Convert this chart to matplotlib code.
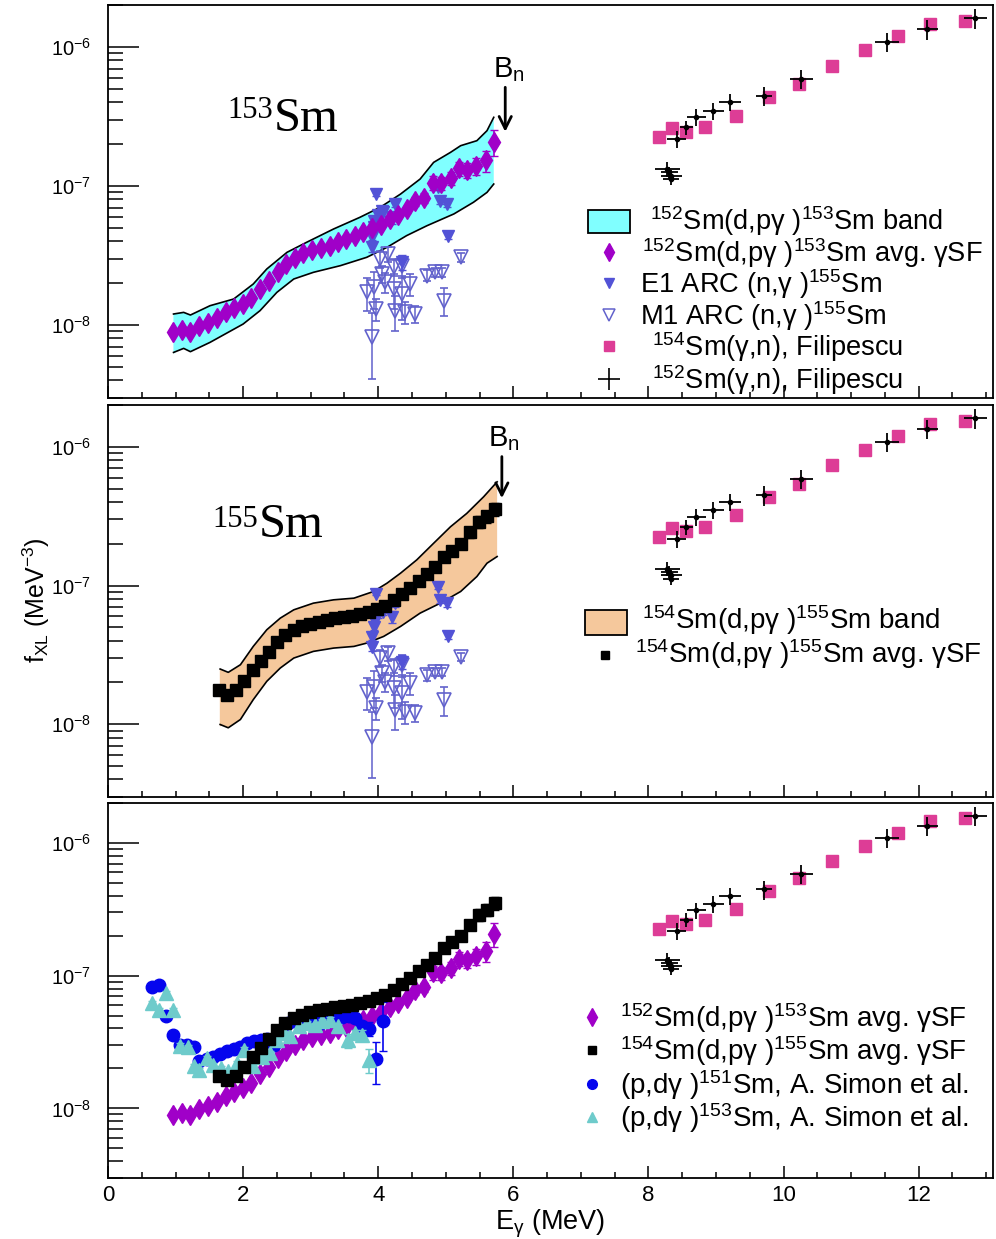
import numpy as np
import matplotlib
matplotlib.use("Agg")
import matplotlib.pyplot as plt
from matplotlib.lines import Line2D
from matplotlib.patches import Rectangle
from matplotlib.ticker import MultipleLocator, LogLocator, NullFormatter

plt.rcParams['font.family'] = ['Liberation Sans', 'DejaVu Sans']
plt.rcParams['mathtext.fontset'] = 'custom'
plt.rcParams['mathtext.rm'] = 'Liberation Sans'
plt.rcParams['mathtext.it'] = 'Liberation Sans:italic'
plt.rcParams['mathtext.bf'] = 'Liberation Sans:bold'

SCALE = 1e-8  # values below are in units of 1e-8 MeV^-3

# 152Sm(d,p gamma)153Sm average gSF
e153 = [0.96, 1.09, 1.21, 1.35, 1.48, 1.61, 1.74, 1.87, 2.00, 2.12, 2.25, 2.38, 2.51,
        2.64, 2.77, 2.89, 3.02, 3.15, 3.28, 3.40, 3.53, 3.66, 3.78, 3.91, 4.04, 4.17,
        4.29, 4.42, 4.55, 4.68, 4.81, 4.93, 5.07, 5.19, 5.31, 5.44, 5.59, 5.71]
gsf153 = [0.891, 0.916, 0.891, 0.982, 1.042, 1.122, 1.239, 1.318, 1.416, 1.563, 1.820,
          2.065, 2.388, 2.729, 3.013, 3.281, 3.443, 3.581, 3.690, 3.954, 4.140, 4.335,
          4.656, 4.989, 5.284, 5.794, 6.223, 6.776, 7.745, 8.204, 10.59, 10.47, 11.43,
          13.37, 13.06, 14.00, 15.28, 20.75]
gsf153_rel = [0.03] * 26 + [0.06, 0.06, 0.07, 0.08, 0.12, 0.11, 0.11, 0.12, 0.12,
                            0.14, 0.17, 0.21]

# 153Sm band
band153_hi_e = [0.97, 1.12, 1.22, 1.51, 1.86, 2.15, 2.35, 2.65, 2.94, 3.34, 3.73, 4.03,
                4.33, 4.62, 4.82, 5.07, 5.22, 5.46, 5.61, 5.71]
band153_hi = [1.200, 1.233, 1.180, 1.377, 1.538, 1.972, 2.529, 3.334, 3.936, 4.909,
              5.957, 7.031, 8.750, 11.22, 14.79, 17.46, 19.50, 21.18, 25.00, 31.19]
band153_lo_e = [0.97, 1.12, 1.22, 1.51, 2.00, 2.25, 2.50, 2.75, 3.04, 3.44, 3.83, 4.13,
                4.42, 4.72, 5.12, 5.41, 5.61, 5.71]
band153_lo = [0.635, 0.679, 0.643, 0.750, 1.016, 1.268, 1.718, 2.143, 2.393, 2.673,
              3.069, 3.622, 4.395, 5.176, 6.295, 7.638, 8.995, 10.33]

# 154Sm(d,p gamma)155Sm average gSF
e155 = [1.64, 1.76, 1.90, 2.02, 2.14, 2.26, 2.39, 2.50, 2.62, 2.75, 2.87, 2.99, 3.12,
        3.24, 3.36, 3.49, 3.61, 3.73, 3.86, 3.98, 4.10, 4.23, 4.35, 4.47, 4.60, 4.72,
        4.84, 4.97, 5.09, 5.22, 5.36, 5.49, 5.61, 5.73]
gsf155 = [1.754, 1.637, 1.754, 2.065, 2.455, 2.838, 3.319, 3.908, 4.385, 4.786, 5.070,
          5.284, 5.470, 5.598, 5.794, 5.929, 6.039, 6.209, 6.397, 6.776, 7.178, 7.834,
          8.650, 9.594, 10.79, 12.11, 13.61, 16.18, 17.86, 20.04, 24.27, 28.91, 31.55,
          35.40]
gsf155_rel = [0.03] * 24 + [0.05, 0.06, 0.07, 0.07, 0.08, 0.08, 0.09, 0.10, 0.10, 0.11]

# 155Sm band
band155_hi_e = [1.66, 1.78, 1.96, 2.15, 2.35, 2.55, 2.75, 3.04, 3.34, 3.64, 3.93, 4.13,
                4.33, 4.57, 4.82, 5.07, 5.31, 5.56, 5.76]
band155_hi = [2.500, 2.366, 2.685, 3.639, 4.797, 5.821, 6.683, 7.464, 7.889, 8.110,
              9.057, 10.40, 12.28, 15.31, 20.18, 26.55, 33.11, 43.65, 55.98]
band155_lo_e = [1.66, 1.78, 1.96, 2.15, 2.35, 2.55, 2.75, 3.04, 3.34, 3.64, 3.83, 4.08,
                4.33, 4.62, 4.92, 5.22, 5.46, 5.61, 5.76]
band155_lo = [0.995, 0.942, 1.081, 1.503, 2.037, 2.541, 2.999, 3.350, 3.540, 3.639,
              3.846, 4.295, 5.070, 6.324, 7.464, 9.057, 11.61, 14.49, 16.18]

# ARC (n,gamma)155Sm
e1_e = [3.96, 4.05, 4.25, 4.20, 3.93, 3.91, 3.91, 3.93, 4.35, 4.89, 4.92, 5.02, 5.04,
        4.00, 4.07]
e1_f = [8.750, 6.637, 7.430, 5.957, 5.047, 4.276, 3.622, 5.636, 2.825, 9.772, 7.834,
        7.430, 4.345, 6.166, 6.457]
e1_rel = [0.03, 0.05, 0.05, 0.10, 0.05, 0.05, 0.07, 0.05, 0.12, 0.03, 0.05, 0.05,
          0.05, 0.05, 0.05]
m1_e = [5.22, 4.15, 4.03, 4.23, 4.35, 4.05, 4.72, 4.84, 4.94, 4.10, 4.47, 3.83, 3.93,
        4.23, 4.35, 4.97, 3.96, 4.25, 4.40, 4.55, 3.91]
m1_f = [3.069, 3.243, 2.985, 2.600, 2.673, 2.328, 2.265, 2.393, 2.393, 2.028, 1.972,
        1.718, 1.866, 1.816, 1.671, 1.496, 1.303, 1.268, 1.233, 1.200, 0.815]
m1_rel = [0.07, 0.12, 0.14, 0.14, 0.18, 0.14, 0.09, 0.07, 0.07, 0.16, 0.18, 0.26,
          0.30, 0.28, 0.35, 0.23, 0.18, 0.28, 0.18, 0.14, 0.50]

# Filipescu (gamma,n)
fil154_e = [8.15, 8.35, 8.56, 8.83, 9.30, 9.78, 10.23, 10.72, 11.21, 11.70, 12.17, 12.69]
fil154_f = [22.39, 26.00, 24.60, 26.42, 32.06, 43.85, 54.20, 73.45, 95.06, 119.4,
            146.2, 154.5]
fil152_e = [8.28, 8.31, 8.34, 8.33, 8.42, 8.56, 8.71, 8.96, 9.21, 9.71, 10.26, 11.53,
            12.13, 12.84]
fil152_f = [13.24, 12.53, 11.86, 11.22, 21.78, 26.42, 31.19, 34.83, 39.99, 44.67,
            58.88, 109.1, 134.6, 160.7]
fil152_xerr = [0.18, 0.12, 0.15, 0.12, 0.14, 0.10, 0.14, 0.16, 0.16, 0.12, 0.17, 0.18,
               0.16, 0.17]
fil152_rel = [0.12, 0.10, 0.10, 0.10, 0.14, 0.12, 0.14, 0.14, 0.14, 0.16, 0.16, 0.16,
              0.16, 0.16]

# A. Simon et al. (p,d gamma)
sim151_e = [0.65, 0.75, 0.86, 0.96, 1.07, 1.17, 1.27, 1.35, 1.46, 1.56, 1.66, 1.76, 1.86,
            1.96, 2.06, 2.16, 2.26, 2.36, 2.46, 2.56, 2.66, 2.76, 2.86, 2.96, 3.06, 3.16,
            3.26, 3.36, 3.46, 3.56, 3.66, 3.76, 3.86, 3.97, 4.07]
sim151_f = [8.222, 8.551, 5.012, 3.548, 3.020, 3.020, 2.917, 2.265, 2.344, 2.455, 2.570,
            2.692, 2.786, 2.917, 3.090, 3.236, 3.273, 3.311, 3.020, 3.802, 4.365, 4.571,
            4.677, 4.571, 4.467, 4.365, 4.571, 4.677, 4.898, 5.012, 4.786, 4.169, 3.981,
            2.344, 4.519]
sim151_rel = [0.03] * 31 + [0.06, 0.12, 0.35, 0.40]
sim153_e = [0.65, 0.75, 0.86, 0.96, 1.07, 1.18, 1.27, 1.35, 1.46, 1.56, 1.67, 1.78, 1.91,
            2.02, 2.14, 2.28, 2.40, 2.50, 2.60, 2.70, 2.82, 2.94, 3.07, 3.17, 3.29, 3.41,
            3.55, 3.66, 3.76, 3.86]
sim153_f = [6.223, 5.534, 7.396, 5.534, 2.965, 2.897, 2.070, 1.954, 2.393, 2.128, 2.009,
            1.897, 2.193, 2.767, 2.070, 2.460, 2.606, 3.289, 3.690, 3.483, 4.150, 4.395,
            4.266, 4.519, 4.656, 4.169, 3.251, 3.690, 3.589, 2.323]
sim153_rel = [0.04] * 26 + [0.12, 0.06, 0.08, 0.20]

# ---------------------------------------------------------------------------
MAG = '#A000C8'
E1C = '#5252D6'
M1C = '#6262CC'
PINK = '#DD3D96'
BLUE = '#0505EE'
CYAN = '#6ECBCB'
BANDC = '#80FFFF'
BANDO = '#F5C89C'

W, H = 996, 1239
fig = plt.figure(figsize=(W / 100, H / 100), dpi=100)


def rect(l, t, r, b):
    return [l / W, 1 - b / H, (r - l) / W, (b - t) / H]


def fx(x):
    return x / W


def fy(y):
    return 1 - y / H


ax1 = fig.add_axes(rect(108, 5, 993, 398))
ax2 = fig.add_axes(rect(108, 405, 993, 797))
ax3 = fig.add_axes(rect(108, 803, 993, 1178))


def style(ax, xlabels):
    ax.set_yscale('log')
    ax.set_xlim(0, 13.1)
    ax.set_ylim(10 ** -8.525, 10 ** -5.698)
    ax.xaxis.set_major_locator(MultipleLocator(2))
    ax.xaxis.set_minor_locator(MultipleLocator(0.5))
    ax.yaxis.set_major_locator(LogLocator(base=10, numticks=12))
    ax.yaxis.set_minor_locator(LogLocator(base=10, subs=np.arange(2, 10), numticks=30))
    ax.yaxis.set_minor_formatter(NullFormatter())
    ax.tick_params(axis='both', which='both', direction='in', top=False, right=False)
    ax.tick_params(axis='y', which='major', length=22, width=1.1, pad=12, labelsize=14.5)
    ax.tick_params(axis='y', which='minor', length=11, width=1.1)
    ax.tick_params(axis='x', which='major', length=8.5, width=1.1, pad=5, labelsize=16)
    ax.tick_params(axis='x', which='minor', length=4, width=1.1)
    if not xlabels:
        ax.tick_params(axis='x', labelbottom=False)
    for s in ax.spines.values():
        s.set_linewidth(1.3)


def arr(v):
    return np.asarray(v, dtype=float) * SCALE


def draw_band(ax, xe_hi, hi, xe_lo, lo, color):
    xs = list(xe_hi) + list(xe_lo[::-1])
    ys = list(arr(hi)) + list(arr(lo)[::-1])
    ax.fill(xs, ys, color=color, lw=0, zorder=1)
    ax.plot(xe_hi, arr(hi), color='black', lw=1.2, zorder=2)
    ax.plot(xe_lo, arr(lo), color='black', lw=1.2, zorder=2)
    ax.plot([xe_hi[0], xe_lo[0]], [arr(hi)[0], arr(lo)[0]], color=color, lw=1.0, zorder=1)


def draw_err(ax, x, f, rel, fmt, color, ms, z, mfc=None, mew=1.0, lw=1.2, xerr=None, cap=3):
    y = arr(f)
    yerr = y * np.asarray(rel)
    ax.errorbar(x, y, yerr=yerr, xerr=xerr, fmt=fmt, color=color, ms=ms,
                mfc=mfc if mfc is not None else color, mec=color, mew=mew,
                elinewidth=lw, capsize=cap, capthick=lw, zorder=z, ls='none')


def draw_arc(ax):
    draw_err(ax, m1_e, m1_f, m1_rel, 'v', M1C, 10, 3, mfc='none', mew=1.2, lw=1.1)
    draw_err(ax, e1_e, e1_f, e1_rel, 'v', E1C, 9, 4, lw=1.1)


def draw_fil(ax):
    ax.plot(fil154_e, arr(fil154_f), 's', color=PINK, ms=8, zorder=3, ls='none')
    y = arr(fil152_f)
    ax.errorbar(fil152_e, y, xerr=fil152_xerr, yerr=y * np.asarray(fil152_rel), fmt='o',
                color='black', ms=3, elinewidth=1.3, capsize=0, zorder=4)


for ax in (ax1, ax2, ax3):
    style(ax, ax is ax3)

# Panel 1
draw_band(ax1, band153_hi_e, band153_hi, band153_lo_e, band153_lo, BANDC)
draw_arc(ax1)
draw_err(ax1, e153, gsf153, gsf153_rel, 'd', MAG, 10, 5)
draw_fil(ax1)

# Panel 2
draw_band(ax2, band155_hi_e, band155_hi, band155_lo_e, band155_lo, BANDO)
draw_arc(ax2)
draw_err(ax2, e155, gsf155, gsf155_rel, 's', 'black', 8.5, 5)
draw_fil(ax2)

# Panel 3
draw_err(ax3, e153, gsf153, gsf153_rel, 'd', MAG, 10, 3)
draw_err(ax3, sim151_e, sim151_f, sim151_rel, 'o', BLUE, 9, 4, mfc=BLUE)
draw_err(ax3, sim153_e, sim153_f, sim153_rel, '^', CYAN, 9.5, 5)
draw_err(ax3, e155, gsf155, gsf155_rel, 's', 'black', 8.5, 6)
draw_fil(ax3)

# B_n arrows
ax1.annotate('', xy=(5.88, 10 ** -6.63), xytext=(5.88, 10 ** -6.27),
             arrowprops=dict(arrowstyle='->', lw=2.0, color='black',
                             mutation_scale=22))
ax1.text(5.70, 10 ** -6.216, r'B$_{\rm n}$', fontsize=21, ha='left', va='baseline')
ax2.annotate('', xy=(5.83, 10 ** -6.39), xytext=(5.83, 10 ** -6.05),
             arrowprops=dict(arrowstyle='->', lw=2.0, color='black',
                             mutation_scale=22))
ax2.text(5.63, 10 ** -5.993, r'B$_{\rm n}$', fontsize=21, ha='left', va='baseline')

# Panel labels
SERIF = ['Liberation Serif', 'DejaVu Serif']
fig.text(fx(227), fy(118), '153', family=SERIF, fontsize=22, va='baseline')
fig.text(fx(274), fy(131), 'Sm', family=SERIF, fontsize=35, va='baseline')
fig.text(fx(212), fy(527), '155', family=SERIF, fontsize=22, va='baseline')
fig.text(fx(259), fy(537), 'Sm', family=SERIF, fontsize=35, va='baseline')


# Legends (manual)
def leg_marker(x, y, **kw):
    fig.add_artist(Line2D([fx(x)], [fy(y)], transform=fig.transFigure, ls='none', **kw))


def leg_text(x, y, s, size):
    fig.text(fx(x), fy(y + size * 0.5), s, fontsize=size, va='baseline', ha='left')


def leg_box(x0, y0, x1, y1, color):
    fig.add_artist(Rectangle((fx(x0), fy(y1)), (x1 - x0) / W, (y1 - y0) / H,
                             transform=fig.transFigure, facecolor=color,
                             edgecolor='black', lw=1.3))


FS1 = 19.6
rows1 = [220, 252, 283, 315, 346, 379]
leg_box(588, 210, 630, 233, BANDC)
leg_text(650, rows1[0], r'$^{152}$Sm(d,pγ )$^{153}$Sm band', FS1)
leg_marker(609, rows1[1], marker='d', color=MAG, ms=9)
leg_text(642, rows1[1], r'$^{152}$Sm(d,pγ )$^{153}$Sm avg. γSF', FS1)
leg_marker(609, rows1[2], marker='v', color=E1C, ms=7)
leg_text(640, rows1[2], r'E1 ARC (n,γ )$^{155}$Sm', FS1)
leg_marker(609, rows1[3], marker='v', color=M1C, mfc='none', ms=8, mew=1.1)
leg_text(640, rows1[3], r'M1 ARC (n,γ )$^{155}$Sm', FS1)
leg_marker(609, rows1[4], marker='s', color=PINK, ms=7)
leg_text(652, rows1[4], r'$^{154}$Sm(γ,n), Filipescu', FS1)
leg_marker(609, rows1[5], marker='+', color='black', ms=16, mew=1.2)
leg_text(652, rows1[5], r'$^{152}$Sm(γ,n), Filipescu', FS1)

FS2 = 20.0
leg_box(585, 610, 627, 635, BANDO)
leg_text(642, 619, r'$^{154}$Sm(d,pγ )$^{155}$Sm band', FS2)
leg_marker(605, 655, marker='s', color='black', ms=6)
leg_text(635, 653, r'$^{154}$Sm(d,pγ )$^{155}$Sm avg. γSF', FS2)

FS3 = 20.0
rows3 = [1017, 1050, 1084, 1117]
leg_marker(592, rows3[0], marker='d', color=MAG, ms=9)
leg_text(620, rows3[0], r'$^{152}$Sm(d,pγ )$^{153}$Sm avg. γSF', FS3)
leg_marker(592, rows3[1], marker='s', color='black', ms=6)
leg_text(620, rows3[1], r'$^{154}$Sm(d,pγ )$^{155}$Sm avg. γSF', FS3)
leg_marker(592, rows3[2], marker='o', color=BLUE, ms=7)
leg_text(620, rows3[2], r'(p,dγ )$^{151}$Sm, A. Simon et al.', FS3)
leg_marker(592, rows3[3], marker='^', color=CYAN, ms=7)
leg_text(620, rows3[3], r'(p,dγ )$^{153}$Sm, A. Simon et al.', FS3)

# Axis titles
fig.text(fx(36), fy(600), r'f$_{\rm XL}$ (MeV$^{-3}$)', rotation=90, ha='center',
         va='center', fontsize=18)
fig.text(fx(550), fy(1230), r'E$_{\rm \gamma}$ (MeV)', ha='center', va='baseline',
         fontsize=19.5)

fig.savefig('out.png', dpi=100)
